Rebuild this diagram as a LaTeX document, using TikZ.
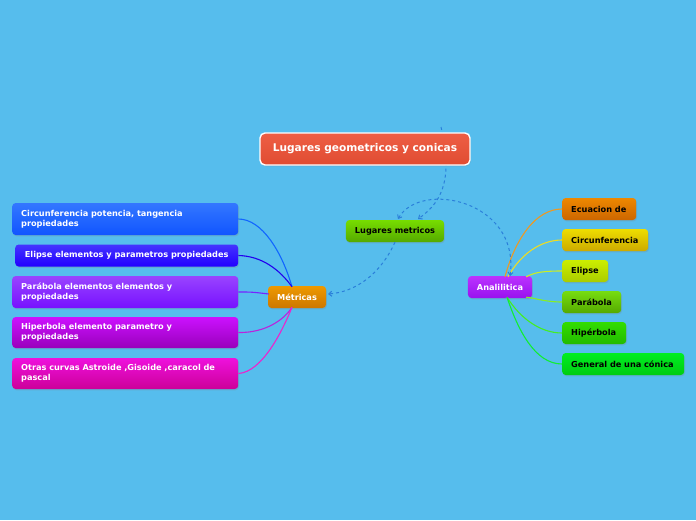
\documentclass[tikz,border=0pt]{standalone}
\usepackage{fontspec}
\setmainfont{DejaVu Sans}
\usetikzlibrary{shadows,arrows.meta,calc}
\definecolor{bg}{HTML}{56BDED}
\definecolor{relblue}{HTML}{2A7FDA}
\definecolor{cT}{HTML}{EE5E44}\definecolor{cB}{HTML}{E04C32}
\definecolor{lmT}{HTML}{77DD00}\definecolor{lmB}{HTML}{55AA00}
\definecolor{metT}{HTML}{EE9900}\definecolor{metB}{HTML}{CC7700}
\definecolor{anaT}{HTML}{BB33FF}\definecolor{anaB}{HTML}{9911EE}
\definecolor{l1T}{HTML}{3377FF}\definecolor{l1B}{HTML}{1155FF}
\definecolor{l2T}{HTML}{4433FF}\definecolor{l2B}{HTML}{2200FF}
\definecolor{l3T}{HTML}{9944FF}\definecolor{l3B}{HTML}{7711FF}
\definecolor{l4T}{HTML}{CC11FF}\definecolor{l4B}{HTML}{9900BB}
\definecolor{l5T}{HTML}{EE11DD}\definecolor{l5B}{HTML}{CC0099}
\definecolor{r1T}{HTML}{EE8800}\definecolor{r1B}{HTML}{CC6600}
\definecolor{r2T}{HTML}{EEDD00}\definecolor{r2B}{HTML}{CCAA00}
\definecolor{r3T}{HTML}{CCEE00}\definecolor{r3B}{HTML}{AACC00}
\definecolor{r4T}{HTML}{77DD11}\definecolor{r4B}{HTML}{55AA00}
\definecolor{r5T}{HTML}{33DD00}\definecolor{r5B}{HTML}{22BB00}
\definecolor{r6T}{HTML}{00EE22}\definecolor{r6B}{HTML}{00CC11}
\definecolor{l1L}{HTML}{1166FF}
\definecolor{l2L}{HTML}{2200EE}
\definecolor{l3L}{HTML}{7722FF}
\definecolor{l4L}{HTML}{BB22DD}
\definecolor{l5L}{HTML}{EE22CC}
\definecolor{r1L}{HTML}{EE9922}
\definecolor{r2L}{HTML}{EEDD22}
\definecolor{r3L}{HTML}{CCEE22}
\definecolor{r4L}{HTML}{88EE22}
\definecolor{r5L}{HTML}{44EE22}
\definecolor{r6L}{HTML}{11EE33}
\begin{document}
\begin{tikzpicture}[x=1pt,y=-1pt,
  box/.style={rounded corners=3.5pt, inner xsep=9pt, inner ysep=0pt, minimum height=22pt,
    font=\fontsize{8.2}{9.6}\selectfont\bfseries,
    drop shadow={opacity=0.25,shadow xshift=0.8pt,shadow yshift=-1.3pt}},
  wbox/.style={box, text=white},
  kbox/.style={box, text=black},
  grad/.style={top color=#1T, bottom color=#1B},
  lbox/.style={wbox, anchor=west, minimum width=226pt, text width=208pt, align=left},
  rbox/.style={kbox, anchor=west, align=left},
  conn/.style={line width=1.1pt},
  rel/.style={color=relblue, line width=1pt, dash pattern=on 3pt off 3pt},
  tip/.tip={Straight Barb[length=3pt,width=5pt]},
]
\fill[bg] (0,0) rectangle (696,520);
\useasboundingbox (0,0) rectangle (696,520);

% relation behind central node
\draw[rel, -tip] (441,127) .. controls (452,175) and (445,200) .. (418,219);

% central
\node[wbox, draw=white, line width=1.4pt, rounded corners=5pt, minimum width=210pt, minimum height=32pt,
  font=\fontsize{10.6}{12}\selectfont\bfseries, grad=c] (c) at (365,149) {Lugares geometricos y conicas};

% main nodes
\node[kbox, minimum width=98pt, grad=lm] (lm) at (395,231) {Lugares metricos};
\node[wbox, minimum width=58pt, grad=met] (met) at (297,297) {Métricas};
\node[wbox, minimum width=64pt, grad=ana] (ana) at (500,287) {Analilitica};

% left nodes
\node[lbox, minimum height=32pt, grad=l1] (l1) at (12,219) {Circunferencia potencia, tangencia\\propiedades};
\node[wbox, anchor=west, minimum width=223pt, grad=l2] (l2) at (15,255.5) {Elipse elementos y parametros propiedades};
\node[lbox, minimum height=32pt, grad=l3] (l3) at (12,292) {Parábola elementos elementos y\\propiedades};
\node[lbox, minimum height=31pt, grad=l4] (l4) at (12,332.5) {Hiperbola elemento parametro y\\propiedades};
\node[lbox, minimum height=31pt, grad=l5] (l5) at (12,373.5) {Otras curvas Astroide ,Gisoide ,caracol de\\pascal};

% right nodes
\node[rbox, minimum width=74pt, text width=56pt, grad=r1] (r1) at (562,209) {Ecuacion de};
\node[rbox, minimum width=86pt, text width=68pt, grad=r2] (r2) at (562,240) {Circunferencia};
\node[rbox, minimum width=46pt, text width=28pt, grad=r3] (r3) at (562,271) {Elipse};
\node[rbox, minimum width=59pt, text width=41pt, grad=r4] (r4) at (562,302) {Parábola};
\node[rbox, minimum width=64pt, text width=46pt, grad=r5] (r5) at (562,333) {Hipérbola};
\node[rbox, minimum width=122pt, text width=104pt, grad=r6] (r6) at (562,364) {General de una cónica};

% connection points
\coordinate (mt) at ($(met.north)+(-5,1)$);
\coordinate (mb) at ($(met.south)+(-5,-1)$);
\coordinate (ml) at ($(met.west)+(1,-3)$);
\coordinate (at1) at ($(ana.north)+(5,1)$);
\coordinate (at2) at ($(ana.north)+(8,1)$);
\coordinate (ar) at ($(ana.north east)+(-6,1)$);
\coordinate (arb) at ($(ana.south east)+(-6,-1)$);
\coordinate (ab) at ($(ana.south)+(7,-1)$);

% metricas branches
\draw[conn, l1L] (l1.east) .. controls (262,219) and (282,252) .. (mt);
\draw[conn, l2L] (l2.east) .. controls (262,256) and (280,270) .. (mt);
\draw[conn, l3L] (l3.east) .. controls (252,292) .. (ml);
\draw[conn, l4L] (l4.east) .. controls (265,333) and (284,320) .. (mb);
\draw[conn, l5L] (l5.east) .. controls (262,372) and (282,332) .. (mb);

% analitica branches
\draw[conn, r1L] (r1.west) .. controls (535,209) and (515,240) .. (at1);
\draw[conn, r2L] (r2.west) .. controls (540,240) and (520,255) .. (at2);
\draw[conn, r3L] (r3.west) .. controls (545,271) and (535,272) .. (ar);
\draw[conn, r4L] (r4.west) .. controls (545,302) and (535,298) .. (arb);
\draw[conn, r5L] (r5.west) .. controls (540,333) and (520,318) .. (ab);
\draw[conn, r6L] (r6.west) .. controls (535,364) and (518,330) .. (ab);

% relations
\coordinate (d2s) at (510,276);
\coordinate (d2e) at (398,219);
\draw[rel, tip-tip] (d2s) .. controls (520,200) and (420,180) .. (d2e);
\coordinate (d3e) at (328,294);
\draw[rel, -tip] (lm.south) .. controls (380,275) and (355,292) .. (d3e);
\end{tikzpicture}
\end{document}
